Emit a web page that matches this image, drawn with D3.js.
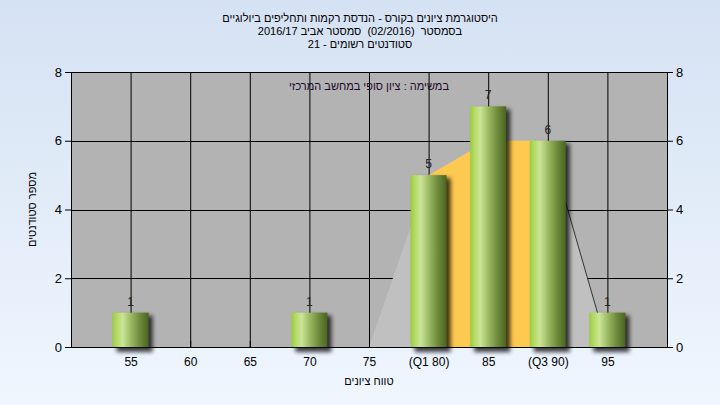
<!DOCTYPE html>
<html><head><meta charset="utf-8">
<script src="https://cdn.jsdelivr.net/npm/d3@7"></script>
<style>html,body{margin:0;padding:0;}svg{display:block;}text.pre{white-space:pre;}</style>
</head><body>
<script>
const categories = [55, 60, 65, 70, 75, 80, 85, 90, 95];
const counts = [1, 0, 0, 1, 0, 5, 7, 6, 1];
const xTickLabels = ["55", "60", "65", "70", "75", "(Q1 80)", "85", "(Q3 90)", "95"];
const yTicks = [0, 2, 4, 6, 8];
const gridX = [50, 55, 60, 65, 70, 75, 80, 85, 90, 95, 100];
const polyX = [75, 80, 85, 90, 95];
const polyY = [0, 5, 6, 6, 0];
const quartX = [80, 85, 90];
const quartY = [5, 6, 6];
const titleLines = ["היסטוגרמת ציונים בקורס - הנדסת רקמות ותחליפים ביולוגיים",
  "בסמסטר  (02/2016)  סמסטר אביב 2016/17",
  "סטודנטים רשומים - 21"];
const subtitle = "במשימה : ציון סופי במחשב המרכזי";
const xTitle = "טווח ציונים";
const yTitle = "מספר סטודנטים";

const W = 720, H = 405;
const L = 71, R = 667, T = 72, B = 347;
const font = "'Liberation Sans', Arial, sans-serif";

const svg = d3.select("body").append("svg").attr("width", W).attr("height", H);
const defs = svg.append("defs");
const bg = defs.append("linearGradient").attr("id", "bg").attr("x1", 0).attr("y1", 0).attr("x2", 0).attr("y2", 1);
bg.append("stop").attr("offset", "0%").attr("stop-color", "#d5e2f3");
bg.append("stop").attr("offset", "100%").attr("stop-color", "#eff6fe");
const bar = defs.append("linearGradient").attr("id", "bar").attr("x1", 0).attr("y1", 0).attr("x2", 1).attr("y2", 0);
[["0%", "#9ccc3c"], ["12%", "#b3da66"], ["28%", "#cbe597"], ["50%", "#9dbb64"], ["75%", "#6f8c3c"], ["100%", "#4a6420"]]
  .forEach(([o, c]) => bar.append("stop").attr("offset", o).attr("stop-color", c));
const f = defs.append("filter").attr("id", "sh").attr("x", "-50%").attr("y", "-50%").attr("width", "200%").attr("height", "200%");
f.append("feGaussianBlur").attr("stdDeviation", 2);

svg.append("rect").attr("width", W).attr("height", H).attr("fill", "url(#bg)");

const x = d3.scaleLinear().domain([50, 100]).range([L, R]);
const y = d3.scaleLinear().domain([0, 8]).range([B, T]);

svg.append("rect").attr("x", L).attr("y", T).attr("width", R - L).attr("height", B - T).attr("fill", "#b3b3b3");

// grid
svg.append("g").selectAll("line").data(gridX).join("line")
  .attr("x1", d => x(d) + 0.5).attr("x2", d => x(d) + 0.5).attr("y1", T).attr("y2", B)
  .attr("stroke", "#000").attr("stroke-width", 1);
svg.append("g").selectAll("line").data(yTicks).join("line")
  .attr("x1", L).attr("x2", R).attr("y1", d => Math.round(y(d)) + 0.5).attr("y2", d => Math.round(y(d)) + 0.5)
  .attr("stroke", "#000").attr("stroke-width", 1);

// polygons
const pts = polyX.map((v, i) => [x(v), y(polyY[i])]);
svg.append("path").attr("d", d3.line()(pts) + "Z").attr("fill", "#c0c0c0");
const qpts = [[x(quartX[0]), y(0)]].concat(quartX.map((v, i) => [x(v), y(quartY[i])]), [[x(quartX[quartX.length - 1]), y(0)]]);
svg.append("path").attr("d", d3.line()(qpts) + "Z").attr("fill", "#fec951");
svg.append("line").attr("x1", x(polyX[3])).attr("y1", y(polyY[3])).attr("x2", x(polyX[4])).attr("y2", y(polyY[4]))
  .attr("stroke", "#333").attr("stroke-width", 1);

// axis baseline
svg.append("line").attr("x1", L).attr("x2", R + 1).attr("y1", B + 0.5).attr("y2", B + 0.5).attr("stroke", "#000");

// axes
const yl = svg.append("g").attr("transform", `translate(${L},0)`)
  .call(d3.axisLeft(y).tickValues(yTicks).tickSize(6).tickPadding(3).tickFormat(d3.format("d")));
const yr = svg.append("g").attr("transform", `translate(${R},0)`)
  .call(d3.axisRight(y).tickValues(yTicks).tickSize(6).tickPadding(3).tickFormat(d3.format("d")));
[yl, yr].forEach(g => {
  g.select(".domain").remove();
  g.selectAll("line").attr("stroke", "#000");
  g.selectAll("text").attr("font-family", font).attr("font-size", 13).attr("fill", "#000");
});
const xa = svg.append("g").attr("transform", `translate(0,${B})`)
  .call(d3.axisBottom(x).tickValues(categories).tickSize(0).tickPadding(10).tickFormat((d, i) => xTickLabels[i]));
xa.select(".domain").remove();
xa.selectAll("text").attr("font-family", font).attr("font-size", 12).attr("fill", "#000");
svg.append("g").selectAll("line").data(gridX.slice(1)).join("line")
  .attr("x1", d => x(d) + 0.5).attr("x2", d => x(d) + 0.5).attr("y1", B - 6).attr("y2", B)
  .attr("stroke", "#000");

// bars
const bw = 36;
const bars = svg.append("g").selectAll("g").data(categories.map((c, i) => ({c, v: counts[i]})).filter(d => d.v > 0)).join("g");
bars.append("rect").attr("x", d => x(d.c) - bw / 2 + 4).attr("y", d => y(d.v) + 3)
  .attr("width", bw).attr("height", d => y(0) - y(d.v) + 2).attr("fill", "#000").attr("opacity", 0.75).attr("filter", "url(#sh)");
bars.append("rect").attr("x", d => x(d.c) - bw / 2).attr("y", d => y(d.v))
  .attr("width", bw).attr("height", d => y(0) - y(d.v)).attr("fill", "url(#bar)");
bars.append("text").attr("x", d => x(d.c)).attr("y", d => y(d.v) - 7).attr("text-anchor", "middle")
  .attr("font-family", font).attr("font-size", 12).attr("fill", "#222").text(d => d.v);

// titles
svg.append("g").selectAll("text").data(titleLines).join("text").attr("class", "pre")
  .attr("x", 360).attr("y", (d, i) => 22 + i * 13).attr("text-anchor", "middle")
  .attr("direction", "rtl").attr("unicode-bidi", "embed")
  .attr("font-family", font).attr("font-size", 11).attr("fill", "#000").text(d => d);
svg.append("text").attr("x", 369).attr("y", 90).attr("text-anchor", "middle")
  .attr("direction", "rtl").attr("unicode-bidi", "embed")
  .attr("font-family", font).attr("font-size", 11).attr("fill", "#1a0a2a").text(subtitle);
svg.append("text").attr("x", 369).attr("y", 385).attr("text-anchor", "middle")
  .attr("direction", "rtl").attr("font-family", font).attr("font-size", 11).attr("fill", "#000").text(xTitle);
svg.append("text").attr("transform", `translate(36,${(T + B) / 2}) rotate(-90)`).attr("text-anchor", "middle")
  .attr("direction", "rtl").attr("font-family", font).attr("font-size", 11).attr("fill", "#000").text(yTitle);
</script>
</body></html>
